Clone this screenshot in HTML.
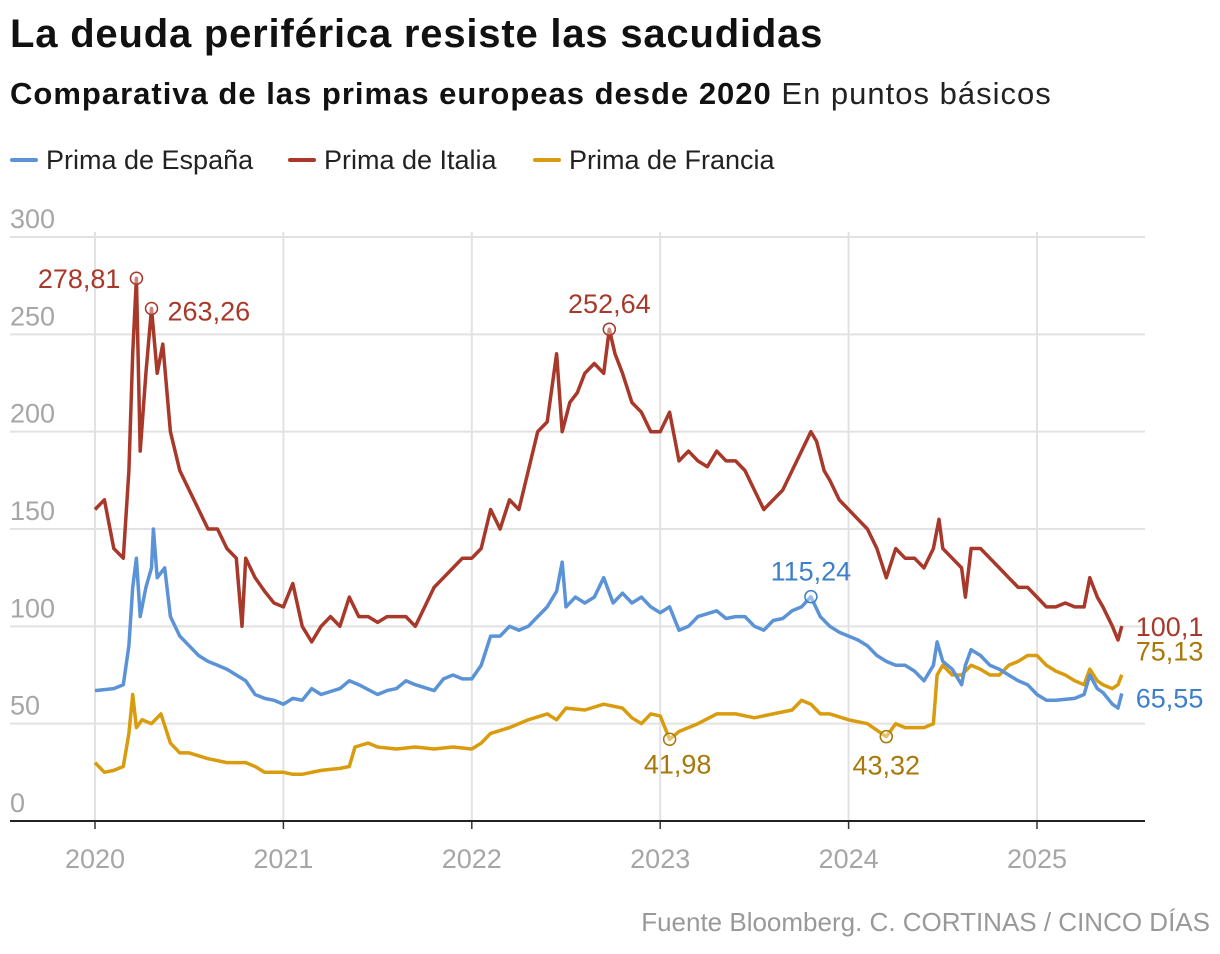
<!DOCTYPE html>
<html><head><meta charset="utf-8">
<style>
body{margin:0;background:#fff;font-family:"Liberation Sans",sans-serif;}
#wrap{position:relative;width:1220px;height:954px;overflow:hidden;}
h1{position:absolute;left:10px;top:12px;margin:0;font-size:40px;font-weight:bold;color:#111;letter-spacing:0.8px}
h2{position:absolute;left:10px;top:76px;margin:0;font-size:31px;font-weight:bold;color:#111;letter-spacing:1px}
h2 span{font-weight:normal;color:#222}
.leg{position:absolute;top:145px;font-size:27px;color:#222}
.leg i{display:inline-block;width:28px;height:4px;border-radius:2px;vertical-align:middle;margin-right:8px;position:relative;top:-2px}
.src{position:absolute;right:10px;top:907px;font-size:26px;color:#999}
</style></head><body>
<div id="wrap">
<h1>La deuda periférica resiste las sacudidas</h1>
<h2>Comparativa de las primas europeas desde 2020 <span>En puntos básicos</span></h2>
<div class="leg" style="left:10px"><i style="background:#5b93d6"></i>Prima de España</div>
<div class="leg" style="left:288px"><i style="background:#a8382a"></i>Prima de Italia</div>
<div class="leg" style="left:533px"><i style="background:#d99c0f"></i>Prima de Francia</div>
<svg id="svg" width="1220" height="954" style="position:absolute;left:0;top:0"></svg>
<div class="src">Fuente Bloomberg. C. CORTINAS / CINCO DÍAS</div>
</div>
<script>
const yTicks=[0,50,100,150,200,250,300];
const xYears=[2020,2021,2022,2023,2024,2025];
const italiaT=[2020.0,2020.05,2020.1,2020.15,2020.18,2020.2,2020.22,2020.24,2020.27,2020.3,2020.33,2020.36,2020.4,2020.45,2020.5,2020.55,2020.6,2020.65,2020.7,2020.75,2020.78,2020.8,2020.85,2020.9,2020.95,2021.0,2021.05,2021.1,2021.15,2021.2,2021.25,2021.3,2021.35,2021.4,2021.45,2021.5,2021.55,2021.6,2021.65,2021.7,2021.75,2021.8,2021.85,2021.9,2021.95,2022.0,2022.05,2022.1,2022.15,2022.2,2022.25,2022.3,2022.35,2022.4,2022.45,2022.48,2022.52,2022.56,2022.6,2022.65,2022.7,2022.73,2022.76,2022.8,2022.85,2022.9,2022.95,2023.0,2023.05,2023.1,2023.15,2023.2,2023.25,2023.3,2023.35,2023.4,2023.45,2023.5,2023.55,2023.6,2023.65,2023.7,2023.75,2023.8,2023.83,2023.87,2023.9,2023.95,2024.0,2024.05,2024.1,2024.15,2024.2,2024.25,2024.3,2024.35,2024.4,2024.45,2024.48,2024.5,2024.55,2024.6,2024.62,2024.65,2024.7,2024.75,2024.8,2024.85,2024.9,2024.95,2025.0,2025.05,2025.1,2025.15,2025.2,2025.25,2025.28,2025.32,2025.35,2025.4,2025.43,2025.45];
const italiaV=[160,165,140,135,180,240,278.81,190,230,263.26,230,245,200,180,170,160,150,150,140,135,100,135,125,118,112,110,122,100,92,100,105,100,115,105,105,102,105,105,105,100,110,120,125,130,135,135,140,160,150,165,160,180,200,205,240,200,215,220,230,235,230,252.64,240,230,215,210,200,200,210,185,190,185,182,190,185,185,180,170,160,165,170,180,190,200,195,180,175,165,160,155,150,140,125,140,135,135,130,140,155,140,135,130,115,140,140,135,130,125,120,120,115,110,110,112,110,110,125,115,110,100,93,100.1];
const espanaT=[2020.0,2020.1,2020.15,2020.18,2020.2,2020.22,2020.24,2020.27,2020.3,2020.31,2020.33,2020.37,2020.4,2020.45,2020.5,2020.55,2020.6,2020.65,2020.7,2020.75,2020.8,2020.85,2020.9,2020.95,2021.0,2021.05,2021.1,2021.15,2021.2,2021.3,2021.35,2021.4,2021.5,2021.55,2021.6,2021.65,2021.7,2021.8,2021.85,2021.9,2021.95,2022.0,2022.05,2022.1,2022.15,2022.2,2022.25,2022.3,2022.35,2022.4,2022.45,2022.48,2022.5,2022.55,2022.6,2022.65,2022.7,2022.75,2022.8,2022.85,2022.9,2022.95,2023.0,2023.05,2023.1,2023.15,2023.2,2023.3,2023.35,2023.4,2023.45,2023.5,2023.55,2023.6,2023.65,2023.7,2023.75,2023.8,2023.85,2023.9,2023.95,2024.0,2024.05,2024.1,2024.15,2024.2,2024.25,2024.3,2024.35,2024.4,2024.45,2024.47,2024.5,2024.55,2024.6,2024.62,2024.65,2024.7,2024.75,2024.8,2024.85,2024.9,2024.95,2025.0,2025.05,2025.1,2025.2,2025.25,2025.28,2025.32,2025.35,2025.4,2025.43,2025.45];
const espanaV=[67,68,70,90,120,135,105,120,130,150,125,130,105,95,90,85,82,80,78,75,72,65,63,62,60,63,62,68,65,68,72,70,65,67,68,72,70,67,73,75,73,73,80,95,95,100,98,100,105,110,118,133,110,115,112,115,125,112,117,112,115,110,107,110,98,100,105,108,104,105,105,100,98,103,104,108,110,115.24,105,100,97,95,93,90,85,82,80,80,77,72,80,92,82,78,70,80,88,85,80,78,75,72,70,65,62,62,63,65,75,68,66,60,58,65.55];
const franciaT=[2020.0,2020.05,2020.1,2020.15,2020.18,2020.2,2020.22,2020.25,2020.3,2020.35,2020.4,2020.45,2020.5,2020.6,2020.7,2020.8,2020.85,2020.9,2021.0,2021.05,2021.1,2021.2,2021.3,2021.35,2021.38,2021.45,2021.5,2021.6,2021.7,2021.8,2021.9,2022.0,2022.05,2022.1,2022.2,2022.3,2022.4,2022.45,2022.5,2022.6,2022.7,2022.8,2022.85,2022.9,2022.95,2023.0,2023.05,2023.1,2023.2,2023.3,2023.4,2023.5,2023.6,2023.7,2023.75,2023.8,2023.85,2023.9,2024.0,2024.1,2024.2,2024.25,2024.3,2024.35,2024.4,2024.45,2024.47,2024.5,2024.55,2024.6,2024.65,2024.7,2024.75,2024.8,2024.85,2024.9,2024.95,2025.0,2025.05,2025.1,2025.15,2025.2,2025.25,2025.28,2025.32,2025.35,2025.4,2025.43,2025.45];
const franciaV=[30,25,26,28,45,65,48,52,50,55,40,35,35,32,30,30,28,25,25,24,24,26,27,28,38,40,38,37,38,37,38,37,40,45,48,52,55,52,58,57,60,58,53,50,55,54,41.98,46,50,55,55,53,55,57,62,60,55,55,52,50,43.32,50,48,48,48,50,75,80,75,75,80,78,75,75,80,82,85,85,80,77,75,72,70,78,72,70,68,70,75.13];

const NS="http://www.w3.org/2000/svg";
const svg=document.getElementById('svg');
const X0=95,YR=188.4,Y0=821,YS=(821-237)/300;
const xS=t=>X0+(t-2020)*YR;
const yS=v=>Y0-v*YS;
function mk(tag,attrs,parent){const e=document.createElementNS(NS,tag);for(const k in attrs)e.setAttribute(k,attrs[k]);(parent||svg).appendChild(e);return e;}
yTicks.forEach(v=>{
  if(v>0){const g=mk('line',{x1:10,x2:1145,y1:yS(v),y2:yS(v),stroke:'#e2e2e2','stroke-width':2});
  
  }
  const t=mk('text',{x:10,y:yS(v)-9,fill:'#a6a6a6','font-size':27});t.textContent=v;
  
  
});
xYears.forEach(y=>{
  const g=mk('line',{x1:xS(y),x2:xS(y),y1:232,y2:821,stroke:'#e2e2e2','stroke-width':2});
  
  
  const tk=mk('line',{x1:xS(y),x2:xS(y),y1:821,y2:829,stroke:'#333','stroke-width':1.5});
  
  
  const t=mk('text',{x:xS(y),y:868,fill:'#a6a6a6','font-size':27,'text-anchor':'middle'});t.textContent=y;
  
  
});
const ax=mk('line',{x1:10,x2:1145,y1:821,y2:821,stroke:'#222','stroke-width':2});


function series(T,V,color,name){
  const p=mk('path',{d:T.map((t,i)=>(i?'L':'M')+xS(t).toFixed(1)+' '+yS(V[i]).toFixed(1)).join(''),fill:'none',stroke:color,'stroke-width':3.5,'stroke-linejoin':'round'});
  
  
}
series(franciaT,franciaV,'#d99c0f','line-francia');
series(espanaT,espanaV,'#5b93d6','line-espana');
series(italiaT,italiaV,'#a8382a','line-italia');
function ann(T,V,i,color,dx,dy,anchor,circle,dark){
  const x=xS(T[i]),y=yS(V[i]);
  if(circle){const c=mk('circle',{cx:x,cy:y,r:6,fill:'#fff','fill-opacity':0.4,stroke:color,'stroke-width':1.5});
  
  }
  const t=mk('text',{x:x+dx,y:y+dy,fill:dark||color,'font-size':27,'text-anchor':anchor});
  t.textContent=String(V[i]).replace('.',',');
  
  
}
const im=i=>italiaV.indexOf(i);
ann(italiaT,italiaV,im(278.81),'#a8382a',-16,10,'end',true);
ann(italiaT,italiaV,im(263.26),'#a8382a',16,12,'start',true);
ann(italiaT,italiaV,im(252.64),'#a8382a',0,-16,'middle',true);
ann(italiaT,italiaV,italiaV.length-1,'#a8382a',14,10,'start',false);
ann(espanaT,espanaV,espanaV.indexOf(115.24),'#3d7fc9',0,-16,'middle',true,'#3d7fc9');
ann(espanaT,espanaV,espanaV.length-1,'#3d7fc9',14,14,'start',false,'#3d7fc9');
ann(franciaT,franciaV,franciaV.indexOf(41.98),'#a8790a',8,34,'middle',true,'#a8790a');
ann(franciaT,franciaV,franciaV.indexOf(43.32),'#a8790a',0,38,'middle',true,'#a8790a');
ann(franciaT,franciaV,franciaV.length-1,'#a8790a',14,-14,'start',false,'#a8790a');
</script>
</body></html>
